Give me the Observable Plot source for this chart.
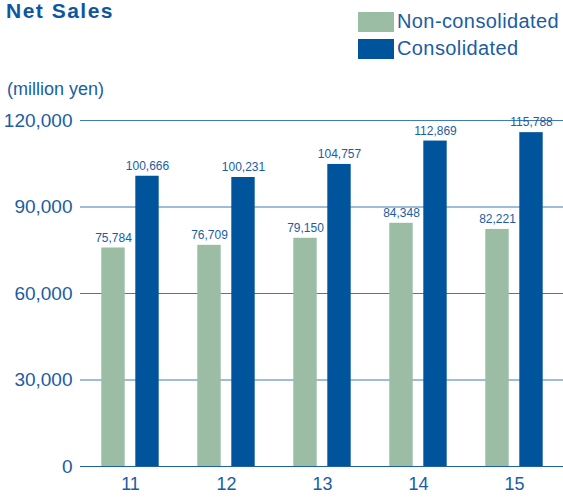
<!DOCTYPE html>
<html>
<head>
<meta charset="utf-8">
<script src="https://cdn.jsdelivr.net/npm/d3@7"></script>
<script src="https://cdn.jsdelivr.net/npm/@observablehq/plot@0.6"></script>
<style>
  body { margin: 0; background: #fff; }
  #wrap { position: relative; width: 563px; height: 498px; font-family: "Liberation Sans", Arial, Helvetica, sans-serif; color: #1a5da4; }
  #title { position: absolute; left: 6px; top: 0px; font-size: 21px; line-height: 1; font-weight: bold; letter-spacing: 1.5px; color: #0d57a0; }
  #unit { position: absolute; left: 7px; top: 79px; font-size: 18px; }
  .leg { position: absolute; left: 358px; font-size: 20px; display: flex; align-items: center; white-space: nowrap; letter-spacing: 0.4px; }
  .sw { width: 36px; height: 20px; margin-right: 3px; }
  #plot { position: absolute; left: 0; top: 0; }
</style>
</head>
<body>
<div id="wrap">
  <div id="plot"></div>
  <div id="title">Net Sales</div>
  <div id="legend"></div>
  <div id="unit">(million yen)</div>
</div>
<script>
const years = ["11", "12", "13", "14", "15"];
const nonConsolidated = [75784, 76709, 79150, 84348, 82221];
const consolidated = [100666, 100231, 104757, 112869, 115788];
const yTicks = [0, 30000, 60000, 90000, 120000];
const seriesNames = ["Non-consolidated", "Consolidated"];
const seriesColors = ["#9bbda4", "#00549c"];
const textColor = "#1a5da4";

const data = years.map((y, i) => ({ year: y, non: nonConsolidated[i], con: consolidated[i] }));
const fmt = d3.format(",");

// legend
const legend = document.getElementById("legend");
seriesNames.forEach((name, i) => {
  const row = document.createElement("div");
  row.className = "leg";
  row.style.top = (i === 0 ? 10 : 37) + "px";
  row.innerHTML = `<div class="sw" style="background:${seriesColors[i]}"></div><span>${name}</span>`;
  legend.appendChild(row);
});

const chart = Plot.plot({
  width: 563,
  height: 498,
  marginLeft: 80,
  marginRight: 0,
  marginTop: 120,
  marginBottom: 32,
  style: { fontFamily: "Liberation Sans, Arial, Helvetica, sans-serif", color: textColor, background: "transparent" },
  x: { domain: years, padding: 0, label: null },
  y: { domain: [0, 120000], label: null },
  marks: [
    Plot.ruleY(yTicks.filter(d => d > 0), { stroke: "#3f7aba", strokeWidth: 1.2 }),
    Plot.barY(data, { x: "year", y: "non", fill: seriesColors[0], insetLeft: 19.3, insetRight: 53.3 }),
    Plot.barY(data, { x: "year", y: "con", fill: seriesColors[1], insetLeft: 53.3, insetRight: 19.3 }),
    Plot.ruleY([0], { stroke: "#1f5fa6", strokeWidth: 1.2 }),
    Plot.text(data, { x: "year", y: "non", text: d => fmt(d.non), dx: -17, dy: -10, fontSize: 12, fill: textColor }),
    Plot.text(data, { x: "year", y: "con", text: d => fmt(d.con), dx: 17, dy: -10, fontSize: 12, fill: textColor }),
    Plot.axisY({ ticks: yTicks, tickSize: 0, tickPadding: 8, fontSize: 19, tickFormat: fmt, label: null }),
    Plot.axisX({ tickSize: 0, tickPadding: 11, fontSize: 18, label: null })
  ]
});
document.getElementById("plot").appendChild(chart);
</script>
</body>
</html>
